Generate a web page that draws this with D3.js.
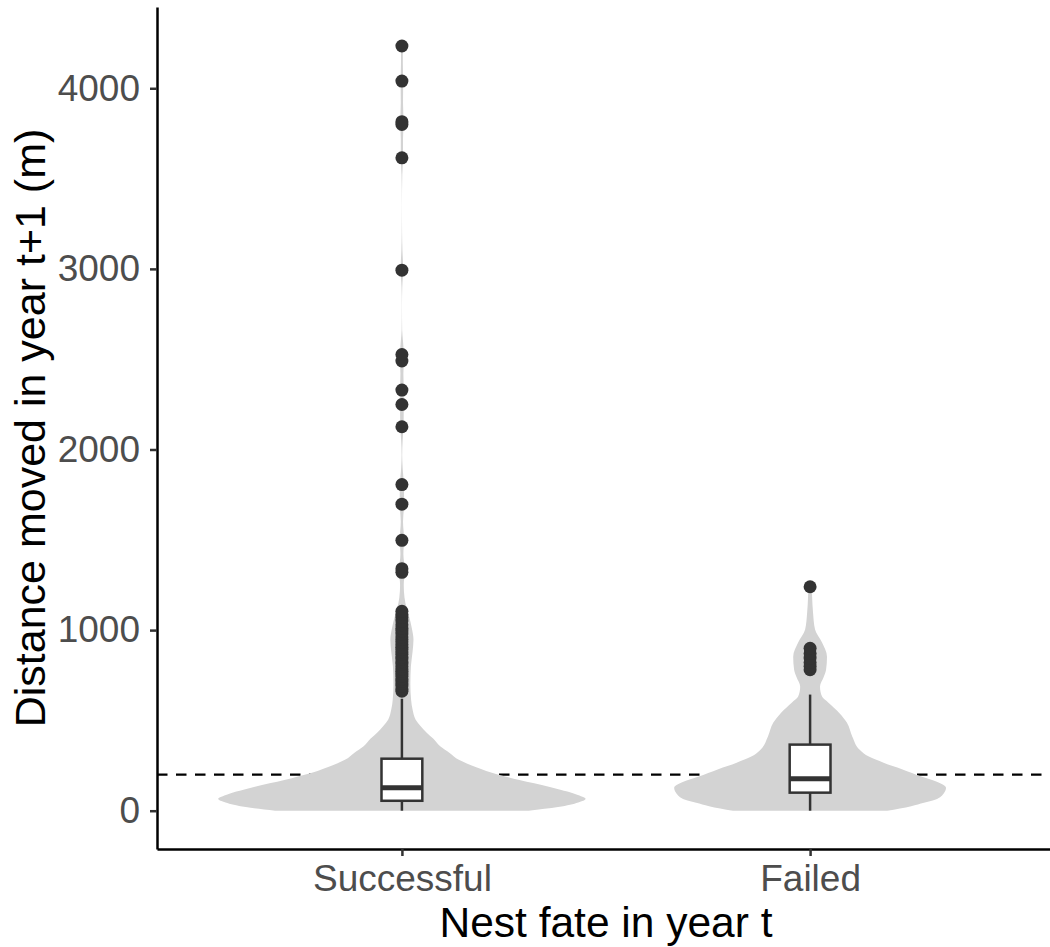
<!DOCTYPE html>
<html>
<head>
<meta charset="utf-8">
<script src="https://cdn.jsdelivr.net/npm/d3@7"></script>
<style>
  body { margin: 0; background: #fff; }
  text { font-family: "Liberation Sans", Arial, sans-serif; }
</style>
</head>
<body>
<div id="chart"></div>
<script>
// categories and box-plot summaries (metres)
var categories = ["Successful", "Failed"];
var q1 = [55, 100];
var medians = [127, 177];
var q3 = [288, 366];
var whiskerLow = [0, 0];
var whiskerHigh = [620, 643];

// outliers per group
var outliersSuccessful = [662, 675, 690, 705, 718, 730, 745, 760, 772, 785, 798, 812, 825, 840, 852,
  866, 880, 893, 905, 920, 935, 948, 962, 978, 995, 1010, 1030, 1050, 1070, 1086, 1104,
  1320, 1340, 1497, 1697, 1806, 2126, 2249, 2329, 2490, 2526, 2993, 3615, 3800, 3815, 4040, 4234];
var outliersFailed = [781, 800, 820, 845, 870, 899, 1240];

// violin densities, [value, relative density]
var densitySuccessful = [[0,69],[20,85],[45,96],[66,100],[90,95],[133,80],[170,64],[210,49],[250,38],
  [282,31],[320,26],[355,21],[400,17],[432,13.5],[470,10],[504,7.5],[560,5.8],[615,5],[700,4.6],
  [800,4.9],[880,5.8],[947,6.3],[1010,5.4],[1075,3.9],[1120,2.6],[1180,1.4],[1250,1.0],[1330,1.6],
  [1420,0.8],[1500,1.2],[1600,0.6],[1700,1.2],[1800,1.1],[1900,0.4],[1970,0.15],[2050,0.4],
  [2130,0.9],[2250,1.0],[2330,1.0],[2420,0.8],[2510,1.1],[2600,0.6],[2660,0.15],[2800,0.05],
  [2900,0.2],[3000,0.7],[3100,0.3],[3200,0.1],[3350,0.03],[3520,0.2],[3620,0.6],[3720,0.6],
  [3810,0.9],[3920,0.6],[4040,0.7],[4140,0.5],[4237,0.5]];
var densityFailed = [[0,42],[25,55],[44,62],[61,68],[100,73],[127,74],[160,69],[188,61],[230,50],
  [266,40],[300,32],[338,27],[410,23],[488,20],[540,16],[598,10],[632,6.5],[687,5.4],[740,7.4],
  [781,8.7],[853,9.2],[931,6.5],[1003,2.7],[1097,1.6],[1186,1.1],[1240,1.0]];

var yTicks = [0, 1000, 2000, 3000, 4000];
var refLine = 200;

var W = 1050, H = 947;
var plot = {left: 157, right: 1055, top: 7, bottom: 849};

var svg = d3.select("#chart").append("svg")
  .attr("width", W)
  .attr("height", H);

var x = d3.scalePoint()
  .domain(categories)
  .range([plot.left, plot.right])
  .padding(0.6);

var y = d3.scaleLinear()
  .domain([-212, 4450])
  .range([plot.bottom, plot.top]);

// violin half width: 0.45 of the category step at the densest point
var w = d3.scaleLinear().domain([0, 100]).range([0, x.step() * 0.45]);

// dashed reference line (under the violins)
svg.append("line")
  .attr("x1", plot.left).attr("x2", W)
  .attr("y1", y(refLine)).attr("y2", y(refLine))
  .attr("stroke", "#000")
  .attr("stroke-width", 2.2)
  .attr("stroke-dasharray", "10.5,8.5");

var densities = [densitySuccessful, densityFailed];
var outliers = [outliersSuccessful, outliersFailed];

categories.forEach(function(cat, i) {
  var cx = x(cat);
  var area = d3.area()
    .curve(d3.curveMonotoneY)
    .y(function(d) { return y(d[0]); })
    .x0(function(d) { return cx - w(d[1]); })
    .x1(function(d) { return cx + w(d[1]); });

  svg.append("path")
    .datum(densities[i])
    .attr("d", area)
    .attr("fill", "#d3d3d3")
    .attr("stroke", "none");
});

// box plots
var boxW = x.step() * 0.1;
categories.forEach(function(cat, i) {
  var cx = x(cat);
  var g = svg.append("g");
  g.append("line")
    .attr("x1", cx).attr("x2", cx)
    .attr("y1", y(q3[i])).attr("y2", y(whiskerHigh[i]))
    .attr("stroke", "#333").attr("stroke-width", 2.5);
  g.append("line")
    .attr("x1", cx).attr("x2", cx)
    .attr("y1", y(q1[i])).attr("y2", y(whiskerLow[i]))
    .attr("stroke", "#333").attr("stroke-width", 2.5);
  g.append("rect")
    .attr("x", cx - boxW / 2)
    .attr("y", y(q3[i]))
    .attr("width", boxW)
    .attr("height", y(q1[i]) - y(q3[i]))
    .attr("fill", "#fff")
    .attr("stroke", "#333")
    .attr("stroke-width", 2.5);
  g.append("line")
    .attr("x1", cx - boxW / 2).attr("x2", cx + boxW / 2)
    .attr("y1", y(medians[i])).attr("y2", y(medians[i]))
    .attr("stroke", "#333").attr("stroke-width", 5);

  g.selectAll("circle")
    .data(outliers[i])
    .enter()
    .append("circle")
    .attr("cx", cx)
    .attr("cy", function(d) { return y(d); })
    .attr("r", 6.5)
    .attr("fill", "#333");
});

// axes
var yAxis = svg.append("g")
  .attr("transform", "translate(" + plot.left + ",0)")
  .call(d3.axisLeft(y).tickValues(yTicks).tickFormat(d3.format("d"))
    .tickSize(7).tickSizeOuter(0).tickPadding(10));

var xAxis = svg.append("g")
  .attr("transform", "translate(0," + plot.bottom + ")")
  .call(d3.axisBottom(x).tickSize(7).tickSizeOuter(0).tickPadding(9));

[yAxis, xAxis].forEach(function(a) {
  a.select(".domain").attr("stroke", "#000").attr("stroke-width", 2.5);
  a.selectAll(".tick line").attr("stroke", "#333").attr("stroke-width", 2.5);
  a.selectAll(".tick text")
    .attr("fill", "#4d4d4d")
    .style("font-size", "37px")
    .style("font-family", "'Liberation Sans', Arial, sans-serif");
});

// axis titles
svg.append("text")
  .attr("x", (plot.left + plot.right) / 2)
  .attr("y", 937)
  .attr("text-anchor", "middle")
  .style("font-size", "42.5px")
  .attr("fill", "#000")
  .text("Nest fate in year t");

svg.append("text")
  .attr("transform", "translate(45," + (plot.top + plot.bottom) / 2 + ") rotate(-90)")
  .attr("text-anchor", "middle")
  .style("font-size", "43px")
  .attr("fill", "#000")
  .text("Distance moved in year t+1 (m)");
</script>
</body>
</html>
